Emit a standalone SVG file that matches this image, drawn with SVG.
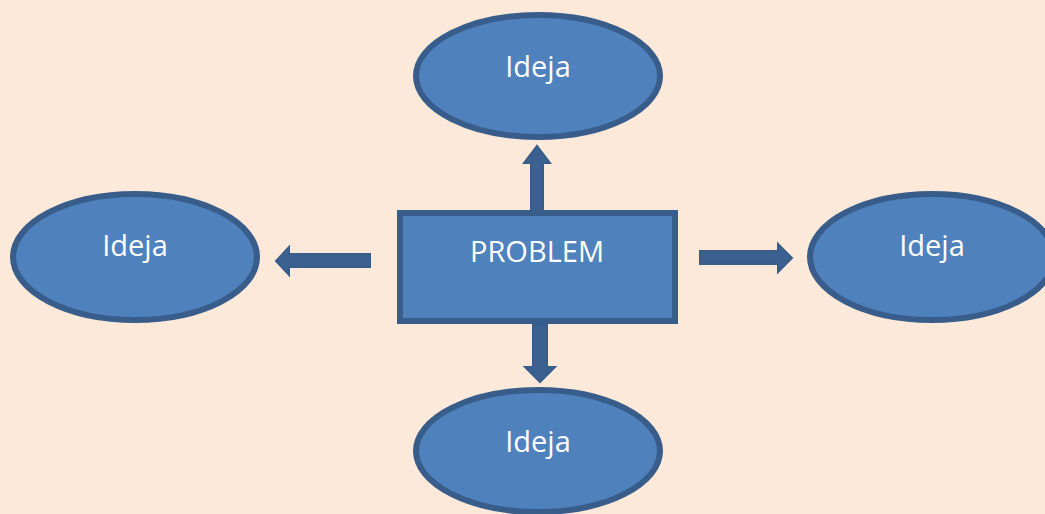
<svg xmlns="http://www.w3.org/2000/svg" width="1045" height="514" viewBox="0 0 1045 514">
<style>
.idea{fill:#4f81bd;stroke:#385d8a;stroke-width:6}
.lbl{font-family:"Open Sans","Noto Sans",sans-serif;font-size:29px;fill:#ffffff;text-anchor:middle}
.arr{fill:#3b6191;stroke:#385d8a;stroke-width:2;stroke-linejoin:miter}
</style>
<rect x="0" y="0" width="1045" height="514" fill="#fde9d9"/>
<g id="connectors">
<polygon class="arr" points="531,212 531,163 524,163 537,146 550,163 543,163 543,212"/>
<polygon class="arr" points="533,324 533,367 525,367 540,382 555,367 547,367 547,324"/>
<polygon class="arr" points="370,254 289,254 289,247 276,261 289,275 289,267 370,267"/>
<polygon class="arr" points="700,251 778,251 778,244 792,258 778,272 778,264 700,264"/>
</g>
<g id="problem">
<rect x="400" y="213" width="275" height="108" fill="#4f81bd" stroke="#385d8a" stroke-width="6"/>
<text class="lbl" x="537" y="262">PROBLEM</text>
</g>
<g id="idea-top">
<ellipse class="idea" cx="538" cy="76" rx="122" ry="61"/>
<text class="lbl" x="538" y="77">Ideja</text>
</g>
<g id="idea-left">
<ellipse class="idea" cx="135" cy="257" rx="122" ry="63"/>
<text class="lbl" x="135" y="256">Ideja</text>
</g>
<g id="idea-right">
<ellipse class="idea" cx="932" cy="257" rx="122" ry="63"/>
<text class="lbl" x="932" y="256">Ideja</text>
</g>
<g id="idea-bottom">
<ellipse class="idea" cx="538" cy="451" rx="122" ry="61"/>
<text class="lbl" x="538" y="452">Ideja</text>
</g>
</svg>
